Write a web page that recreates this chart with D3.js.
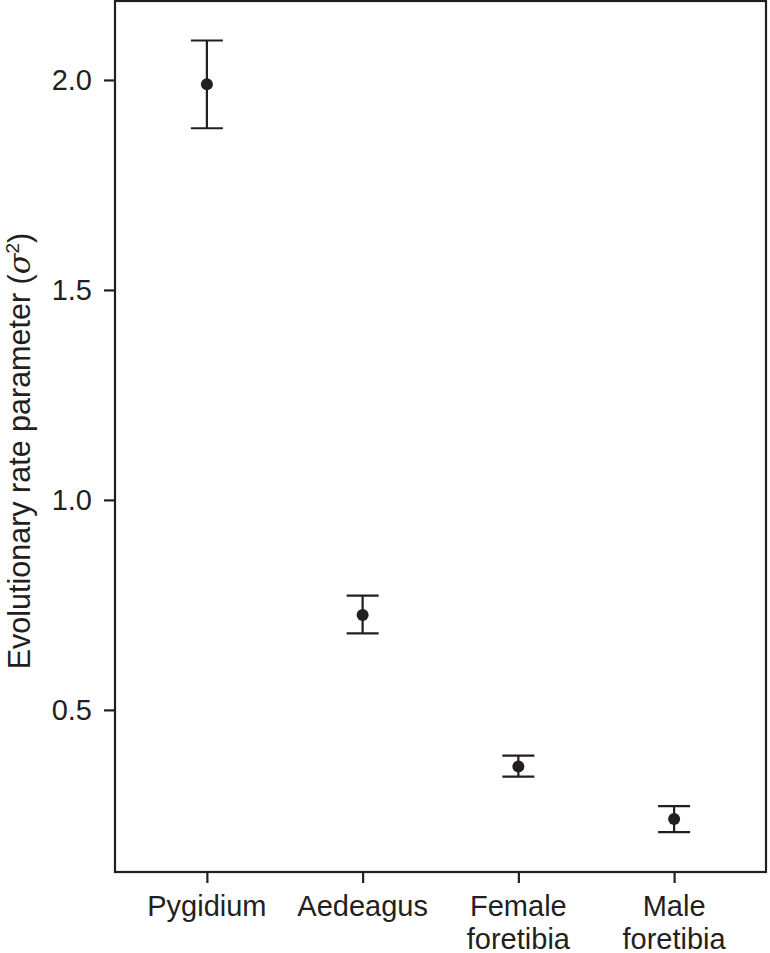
<!DOCTYPE html>
<html>
<head>
<meta charset="utf-8">
<script src="https://cdn.jsdelivr.net/npm/d3@7"></script>
<style>
  body { margin: 0; background: #fff; }
  svg text { font-family: "Liberation Sans", Arial, sans-serif; fill: #231f20; }
</style>
</head>
<body>
<svg id="chart" width="770" height="953"></svg>
<script>
// traits on the x axis, label lines split for wrapping
const traits = ['Pygidium', 'Aedeagus', 'Female foretibia', 'Male foretibia'];
const traitLines = [['Pygidium'], ['Aedeagus'], ['Female', 'foretibia'], ['Male', 'foretibia']];
// rate estimates (sigma^2) with lower / upper error bounds
const rates = [1.990, 0.726, 0.365, 0.240];
const lower = [1.885, 0.682, 0.341, 0.209];
const upper = [2.094, 0.772, 0.391, 0.271];
const yTicks = [0.5, 1.0, 1.5, 2.0];

const ink = '#231f20';
const svg = d3.select('#chart');
const margin = {left: 115, right: 4, top: 1, bottom: 81};
const width = 770 - margin.left - margin.right;
const height = 953 - margin.top - margin.bottom;

const g = svg.append('g')
    .attr('transform', 'translate(' + margin.left + ',' + margin.top + ')');

let x = d3.scalePoint()
    .domain(traits)
    .range([0, width])
    .padding(0.59);

let y = d3.scaleLinear()
    .domain([0.114, 2.188])
    .range([height, 0]);

// frame
g.append('rect')
    .attr('x', 0)
    .attr('y', 0)
    .attr('width', width)
    .attr('height', height)
    .attr('fill', 'none')
    .attr('stroke', ink)
    .attr('stroke-width', 2.2);

// y axis
let yAxis = g.append('g')
    .call(d3.axisLeft(y).tickValues(yTicks).tickFormat(d3.format('.1f')).tickSize(11).tickPadding(12));
yAxis.select('.domain').remove();
yAxis.selectAll('line').attr('stroke', ink).attr('stroke-width', 2.2);
yAxis.selectAll('text').attr('font-size', 29).attr('fill', ink);

// x axis
let xAxis = g.append('g')
    .attr('transform', 'translate(0,' + height + ')')
    .call(d3.axisBottom(x).tickSize(11).tickFormat(''));
xAxis.select('.domain').remove();
xAxis.selectAll('line').attr('stroke', ink).attr('stroke-width', 2.2);

traits.forEach(function(t, i) {
    let label = g.append('text')
        .attr('x', x(t))
        .attr('y', height + 44)
        .attr('text-anchor', 'middle')
        .attr('font-size', 29);
    traitLines[i].forEach(function(line, j) {
        label.append('tspan')
            .attr('x', x(t))
            .attr('dy', j === 0 ? 0 : 33)
            .text(line);
    });
});

// y title
let title = svg.append('text')
    .attr('transform', 'translate(30,451) rotate(-90)')
    .attr('text-anchor', 'middle')
    .attr('font-size', 30.5);
title.append('tspan').text('Evolutionary rate parameter (');
title.append('tspan').attr('font-style', 'italic').attr('font-family', 'DejaVu Serif, serif').text('σ');
title.append('tspan').attr('font-size', 19).attr('dy', -11).text('2');
title.append('tspan').attr('dy', 11).text(')');

// error bars and points
let data = traits.map(function(t, i) {
    return {trait: t, rate: rates[i], lo: lower[i], hi: upper[i]};
});

let bars = g.selectAll('g.bar')
    .data(data)
    .enter()
    .append('g')
    .attr('class', 'bar');

bars.append('line')
    .attr('x1', d => x(d.trait)).attr('x2', d => x(d.trait))
    .attr('y1', d => y(d.lo)).attr('y2', d => y(d.hi))
    .attr('stroke', ink).attr('stroke-width', 2.2);

bars.selectAll('line.cap')
    .data(d => [{trait: d.trait, v: d.lo}, {trait: d.trait, v: d.hi}])
    .enter()
    .append('line')
    .attr('class', 'cap')
    .attr('x1', d => x(d.trait) - 16).attr('x2', d => x(d.trait) + 16)
    .attr('y1', d => y(d.v)).attr('y2', d => y(d.v))
    .attr('stroke', ink).attr('stroke-width', 2.2);

bars.append('circle')
    .attr('cx', d => x(d.trait))
    .attr('cy', d => y(d.rate))
    .attr('r', 6)
    .attr('fill', ink);
</script>
</body>
</html>
